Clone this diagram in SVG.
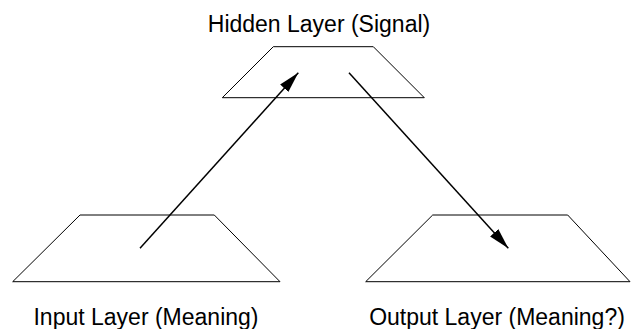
<svg xmlns="http://www.w3.org/2000/svg" width="631" height="329" viewBox="0 0 631 329">
<style>
.layer{fill:none;stroke:#000;stroke-width:1}
.lbl{font-family:"Liberation Sans",Arial,sans-serif;font-size:23px;fill:#000;text-anchor:middle}
.conn{fill:none;stroke:#000;stroke-width:1.5}
</style>
<defs>
<marker id="ah" markerUnits="userSpaceOnUse" markerWidth="22" markerHeight="13" refX="21" refY="6" orient="auto">
<path d="M0,0.5 L21,6 L0,11.5 Z" fill="#000"/>
</marker>
</defs>
<rect width="631" height="329" fill="#fff"/>
<g id="hidden">
<polygon class="layer" points="273.3,46.7 373.3,46.7 424.3,97.7 222.3,97.7"/>
<text class="lbl" x="319" y="32">Hidden Layer (Signal)</text>
</g>
<g id="input">
<polygon class="layer" points="80,215 214.3,215 280,281.7 12.7,281.7"/>
<text class="lbl" x="146" y="325">Input Layer (Meaning)</text>
</g>
<g id="output">
<polygon class="layer" points="432.7,215 567.7,215 630,281.7 365.7,281.7"/>
<text class="lbl" x="497" y="325">Output Layer (Meaning?)</text>
</g>
<g id="connectors">
<line class="conn" x1="140" y1="248.3" x2="298.3" y2="72.7" marker-end="url(#ah)"/>
<line class="conn" x1="349" y1="72.7" x2="508.3" y2="248.3" marker-end="url(#ah)"/>
</g>
</svg>
